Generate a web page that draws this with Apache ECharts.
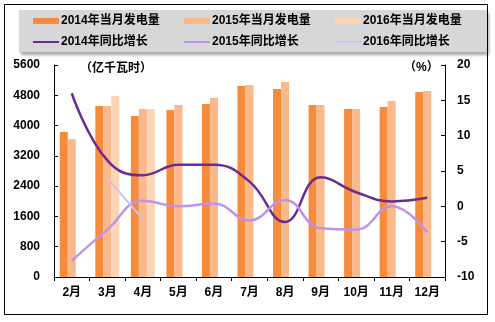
<!DOCTYPE html>
<html>
<head>
<meta charset="utf-8">
<script src="https://cdn.jsdelivr.net/npm/echarts@6/dist/echarts.min.js"></script>
<style>
html,body{margin:0;padding:0;background:#fff;}
#chart{width:495px;height:322px;}
</style>
</head>
<body>
<div id="chart"></div>
<script>
// Monthly generation (亿千瓦时) and year-on-year growth (%)
const months = ['2月','3月','4月','5月','6月','7月','8月','9月','10月','11月','12月'];
const gen2014 = [3830, 4515, 4255, 4410, 4570, 5045, 4965, 4545, 4440, 4490, 4885];
const gen2015 = [3645, 4515, 4440, 4545, 4730, 5070, 5150, 4545, 4440, 4650, 4915];
const gen2016 = [null, 4780, 4440, null, null, null, null, null, null, null, null];
const yoy2014 = [16.0, 6.5, 4.4, 5.9, 5.9, 3.5, -2.2, 4.1, 2.0, 0.7, 1.2];
const yoy2015 = [-7.7, -3.3, 0.8, 0.0, 0.4, -2.0, 0.9, -3.1, -3.3, 0.0, -3.7];
const yoy2016 = [null, 4.0, -1.8, null, null, null, null, null, null, null, null];
const leftTicks = {min: 0, max: 5600, interval: 800};
const rightTicks = {min: -10, max: 20, interval: 5};

const FONT = '"Liberation Sans", Arial, "Noto Sans CJK SC", sans-serif';
const colors = {
  bar14: '#f68b3c', bar15: '#f9b98a', bar16: '#fcd5b5',
  line14: '#6b2c91', line15: '#bf93ec', line16: '#d6bdf2'
};

const chart = echarts.init(document.getElementById('chart'));

const legendText = {fontFamily: FONT, fontSize: 12, fontWeight: 'bold', color: '#000'};
function legendItem(name, left, top, h, color) {
  return {
    data: [{name: name, icon: 'rect', itemStyle: {color: color}}],
    left: left, top: top, itemWidth: 26, itemHeight: h, itemGap: 0,
    textStyle: Object.assign({padding: [0, 0, 0, -3]}, legendText),
    selectedMode: false, padding: 0
  };
}

chart.setOption({
  animation: false,
  textStyle: {fontFamily: FONT},
  graphic: [
    {type: 'rect', shape: {x: 4.5, y: 4.5, width: 483, height: 310},
     style: {fill: 'none', stroke: '#000', lineWidth: 1}, z: 0},
    {type: 'rect', shape: {x: 19, y: 10, width: 468, height: 42},
     style: {fill: '#d7d7d7', shadowBlur: 3, shadowOffsetX: 2, shadowOffsetY: 3,
             shadowColor: 'rgba(0,0,0,0.35)'}, z: 0},
    {type: 'text', left: 80, top: 63,
     style: {text: '（亿千瓦时）', font: 'bold 12px ' + FONT, fill: '#000'}, z: 5},
    {type: 'text', left: 404, top: 62,
     style: {text: '（%）', font: 'bold 12px ' + FONT, fill: '#000'}, z: 5}
  ],
  legend: [
    legendItem('2014年当月发电量', 33, 15, 6, colors.bar14),
    legendItem('2015年当月发电量', 184, 15, 6, colors.bar15),
    legendItem('2016年当月发电量', 335, 15, 6, colors.bar16),
    legendItem('2014年同比增长', 33, 36, 2, colors.line14),
    legendItem('2015年同比增长', 184, 36, 2, colors.line15),
    legendItem('2016年同比增长', 335, 36, 2, colors.line16)
  ],
  grid: {left: 54, right: 50, top: 65, bottom: 45},
  xAxis: {
    type: 'category', data: months,
    axisLine: {lineStyle: {color: '#000', width: 1}},
    axisTick: {show: true, inside: false, length: 4, lineStyle: {color: '#000'}},
    axisLabel: {color: '#000', fontSize: 12, fontWeight: 'bold', margin: 10}
  },
  yAxis: [
    {type: 'value', min: leftTicks.min, max: leftTicks.max, interval: leftTicks.interval,
     axisLine: {show: true, lineStyle: {color: '#000'}},
     axisTick: {show: true, inside: true, length: 4, lineStyle: {color: '#000'}},
     splitLine: {show: false},
     axisLabel: {color: '#000', fontSize: 12, fontWeight: 'bold', margin: 14,
                 formatter: v => String(v)}},
    {type: 'value', min: rightTicks.min, max: rightTicks.max, interval: rightTicks.interval,
     position: 'right',
     axisLine: {show: true, lineStyle: {color: '#000'}},
     axisTick: {show: true, inside: true, length: 4, lineStyle: {color: '#000'}},
     splitLine: {show: false},
     axisLabel: {color: '#000', fontSize: 12, fontWeight: 'bold', margin: 12,
                 formatter: v => String(v)}}
  ],
  series: [
    {name: '2014年当月发电量', type: 'bar', data: gen2014, barWidth: 8, barGap: '0%',
     itemStyle: {color: colors.bar14}},
    {name: '2015年当月发电量', type: 'bar', data: gen2015, barWidth: 8, barGap: '0%',
     itemStyle: {color: colors.bar15}},
    {name: '2016年当月发电量', type: 'bar', data: gen2016, barWidth: 8, barGap: '0%',
     itemStyle: {color: colors.bar16}},
    {name: '2014年同比增长', type: 'line', yAxisIndex: 1, data: yoy2014, smooth: 0.45,
     showSymbol: false, lineStyle: {color: colors.line14, width: 2.5},
     itemStyle: {color: colors.line14}, z: 4},
    {name: '2015年同比增长', type: 'line', yAxisIndex: 1, data: yoy2015, smooth: 0.45,
     showSymbol: false, lineStyle: {color: colors.line15, width: 2.5},
     itemStyle: {color: colors.line15}, z: 4},
    {name: '2016年同比增长', type: 'line', yAxisIndex: 1, data: yoy2016, smooth: 0.45,
     showSymbol: false, lineStyle: {color: colors.line16, width: 2},
     itemStyle: {color: colors.line16}, z: 4}
  ]
});
</script>
</body>
</html>
